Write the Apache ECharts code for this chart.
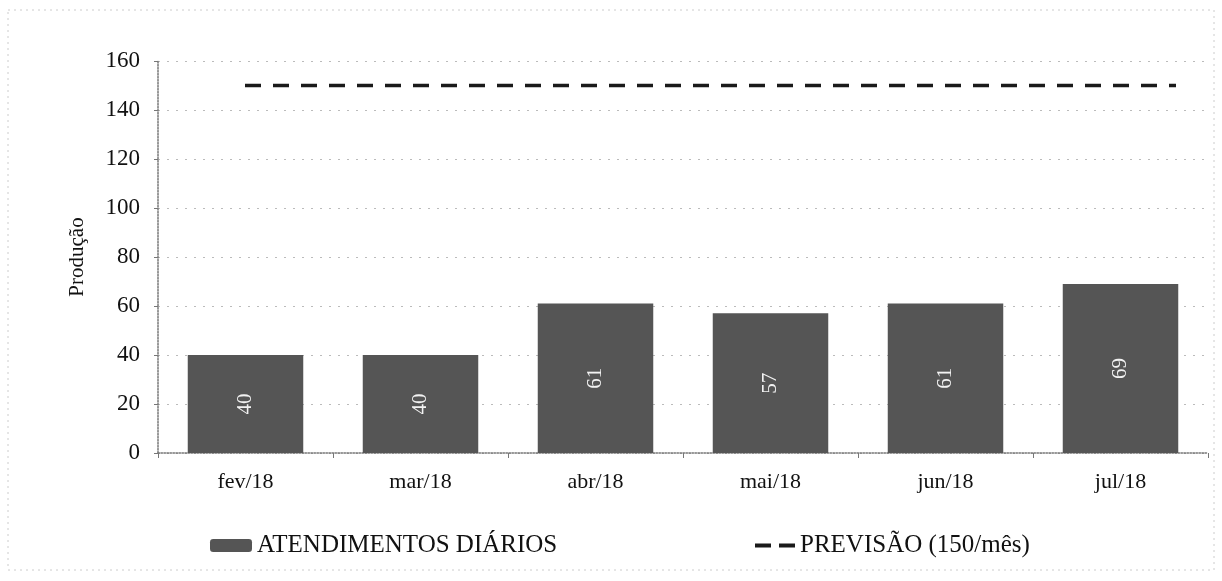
<!DOCTYPE html>
<html><head><meta charset="utf-8">
<script src="https://cdn.jsdelivr.net/npm/echarts@6/dist/echarts.min.js"></script>
<style>html,body{margin:0;padding:0;background:#fff}#c{width:1222px;height:581px}</style>
</head><body><div id="c"></div>
<script>
const categories = ['fev/18','mar/18','abr/18','mai/18','jun/18','jul/18'];
const atendimentos = [40, 40, 61, 57, 61, 69];
const previsao = [150, 150, 150, 150, 150, 150];
const yTicks = [0, 20, 40, 60, 80, 100, 120, 140, 160];
const barName = 'ATENDIMENTOS DIÁRIOS';
const lineName = 'PREVISÃO (150/mês)';

const font = '"Liberation Serif", "DejaVu Serif", serif';
const chart = echarts.init(document.getElementById('c'));
chart.setOption({
  animation: false,
  textStyle: { fontFamily: font, color: '#111' },
  grid: [
    { left: 158, right: 14, top: 61, bottom: 128 },
    { left: 245, right: 46, top: 61, bottom: 128 }
  ],
  legend: [
    { data: [barName], left: 205, top: 528, itemWidth: 42, itemHeight: 13, itemGap: 4,
      textStyle: { fontFamily: font, fontSize: 25, color: '#111' } },
    { data: [{ name: lineName, icon: 'path://M0,0 L16,0 L16,4 L0,4 Z M24,0 L40,0 L40,4 L24,4 Z' }],
      left: 750, top: 528, itemWidth: 40, itemHeight: 4, itemGap: 4,
      textStyle: { fontFamily: font, fontSize: 25, color: '#111' } }
  ],
  xAxis: [
    { type: 'category', gridIndex: 0, data: categories,
      axisLine: { lineStyle: { color: '#777', type: 'dotted', width: 1.5 } },
      axisTick: { show: true, alignWithLabel: false, lineStyle: { color: '#777' } },
      axisLabel: { fontFamily: font, fontSize: 22, color: '#111', margin: 18 } },
    { type: 'category', gridIndex: 1, data: categories, boundaryGap: false, show: false }
  ],
  yAxis: [
    { type: 'value', gridIndex: 0, min: yTicks[0], max: yTicks[yTicks.length-1], interval: 20,
      name: 'Produção', nameLocation: 'middle', nameGap: 70,
      nameTextStyle: { fontFamily: font, fontSize: 21, color: '#111' },
      axisLine: { show: true, lineStyle: { color: '#777', type: 'dotted', width: 1.5 } },
      axisTick: { show: true, length: 4, lineStyle: { color: '#777' } },
      axisLabel: { fontFamily: font, fontSize: 23, color: '#111', margin: 18 },
      splitLine: { show: true, lineStyle: { color: '#bbb', type: [2, 7], width: 1 } } },
    { type: 'value', gridIndex: 1, min: yTicks[0], max: yTicks[yTicks.length-1], show: false }
  ],
  series: [
    { name: barName, type: 'bar', xAxisIndex: 0, yAxisIndex: 0, data: atendimentos,
      barCategoryGap: '34%',
      itemStyle: { color: '#555555' },
      label: { show: true, position: 'inside', rotate: 90, color: '#f2f2f2',
        fontFamily: font, fontSize: 21 } },
    { name: lineName, type: 'line', xAxisIndex: 1, yAxisIndex: 1, data: previsao,
      symbol: 'none',
      lineStyle: { color: '#1a1a1a', width: 3.5, type: [16, 12] },
      itemStyle: { color: '#1a1a1a' } }
  ],
  graphic: [
    { type: 'rect', shape: { x: 8, y: 10, width: 1206, height: 560 },
      style: { fill: 'none', stroke: '#ccc', lineWidth: 1, lineDash: [2, 4] } }
  ]
});
</script></body></html>
